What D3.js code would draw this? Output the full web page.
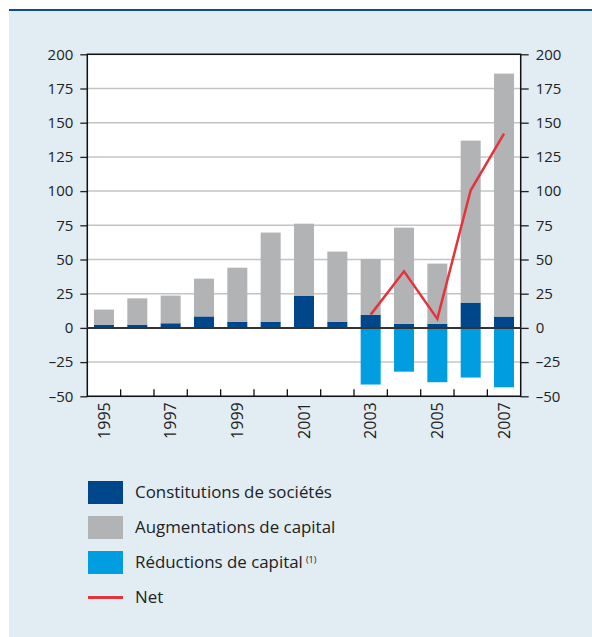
<!DOCTYPE html>
<html lang="fr">
<head>
<meta charset="UTF-8">
<title>Constitutions et augmentations de capital</title>
<script src="https://cdn.jsdelivr.net/npm/d3@7"></script>
<style>
    body { margin: 0; background: #fff; font-family: "Open Sans", sans-serif; }
    svg text { fill: #222; }
</style>
</head>
<body>
<svg id="chart" width="592" height="637"></svg>
<script>
// values (billions)
const years = ["1995", "1996", "1997", "1998", "1999", "2000", "2001", "2002", "2003", "2004", "2005", "2006", "2007"];
const constitutions = [2.4, 2.4, 3.4, 8.4, 4.6, 4.6, 23.6, 4.6, 9.7, 3.1, 3.1, 18.5, 8.3];
const augmentations = [11, 19.2, 20.2, 27.6, 39.4, 65.1, 52.6, 51.2, 40.7, 70.2, 43.9, 118.4, 177.6];
const reductions = [0, 0, 0, 0, 0, 0, 0, 0, -41.4, -32, -39.7, -36.3, -43.4];
const netYears = ["2003", "2004", "2005", "2006", "2007"];
const netValues = [9.7, 41.4, 6.6, 100.6, 142];
const yTicks = [-50, -25, 0, 25, 50, 75, 100, 125, 150, 175, 200];
const xLabels = ["1995", "1997", "1999", "2001", "2003", "2005", "2007"];

const colors = { constitutions: "#00468b", augmentations: "#b2b3b5", reductions: "#009ee0", net: "#e5333b" };

const svg = d3.select("#chart");

// panel background + top rule
svg.append("rect").attr("x", 9).attr("y", 10).attr("width", 583).attr("height", 627).attr("fill", "#e1ecf3");
svg.append("rect").attr("x", 9).attr("y", 9).attr("width", 583).attr("height", 2).attr("fill", "#0a4f96");

const plotL = 87.3, plotR = 520.7, plotT = 54.3, plotB = 396.3;

const x = d3.scaleBand().domain(years).range([plotL, plotR]).paddingInner(0.4).paddingOuter(0.2);
const y = d3.scaleLinear().domain([-50, 200]).range([plotB, plotT]);

svg.append("rect").attr("x", plotL).attr("y", plotT).attr("width", plotR - plotL).attr("height", plotB - plotT).attr("fill", "#fff");

// grid
svg.append("g").selectAll("line").data(yTicks).join("line")
    .attr("x1", plotL).attr("x2", plotR)
    .attr("y1", d => y(d)).attr("y2", d => y(d))
    .attr("stroke", "#c4c4c4").attr("stroke-width", 1.5);

const fmt = d => d < 0 ? "\u2013" + Math.abs(d) : String(d);

const yl = svg.append("g").attr("transform", `translate(${plotL},0)`)
    .call(d3.axisLeft(y).tickValues(yTicks).tickSize(7).tickPadding(7).tickFormat(fmt));
const yr = svg.append("g").attr("transform", `translate(${plotR},0)`)
    .call(d3.axisRight(y).tickValues(yTicks).tickSize(8).tickPadding(7).tickFormat(fmt));
[yl, yr].forEach(g => {
    g.select(".domain").remove();
    g.selectAll("line").attr("stroke", "#222").attr("stroke-width", 1.3);
    g.selectAll("text").attr("font-size", 15).attr("font-family", "Open Sans").attr("fill", "#222");
});

// bars
const bars = svg.append("g");
bars.selectAll(".c").data(years).join("rect")
    .attr("x", d => x(d)).attr("width", x.bandwidth())
    .attr("y", (d, i) => y(constitutions[i])).attr("height", (d, i) => y(0) - y(constitutions[i]))
    .attr("fill", colors.constitutions);
bars.selectAll(".a").data(years).join("rect")
    .attr("x", d => x(d)).attr("width", x.bandwidth())
    .attr("y", (d, i) => y(constitutions[i] + augmentations[i]))
    .attr("height", (d, i) => y(constitutions[i]) - y(constitutions[i] + augmentations[i]))
    .attr("fill", colors.augmentations);
bars.selectAll(".r").data(years).join("rect")
    .attr("x", d => x(d)).attr("width", x.bandwidth())
    .attr("y", y(0)).attr("height", (d, i) => y(reductions[i]) - y(0))
    .attr("fill", colors.reductions);

// frame
svg.append("rect").attr("x", plotL).attr("y", plotT).attr("width", plotR - plotL).attr("height", plotB - plotT)
    .attr("fill", "none").attr("stroke", "#111").attr("stroke-width", 1.5);

// zero line
svg.append("line").attr("x1", plotL).attr("x2", plotR).attr("y1", y(0)).attr("y2", y(0))
    .attr("stroke", "#333").attr("stroke-width", 2);

// category boundary ticks
const gap = x.step() - x.bandwidth();
svg.append("g").selectAll("line").data(years.slice(0, -1)).join("line")
    .attr("x1", d => x(d) + x.bandwidth() + gap / 2).attr("x2", d => x(d) + x.bandwidth() + gap / 2)
    .attr("y1", plotB).attr("y2", plotB - 7)
    .attr("stroke", "#111").attr("stroke-width", 1.3);

// x labels
svg.append("g").selectAll("text").data(xLabels).join("text")
    .attr("transform", d => `translate(${x(d) + x.bandwidth() / 2},${plotB + 6}) rotate(-90)`)
    .attr("text-anchor", "end").attr("dy", "0.35em")
    .attr("font-size", 16).text(d => d);

// net line
const line = d3.line().x((d, i) => x(netYears[i]) + x.bandwidth() / 2).y(d => y(d));
svg.append("path").datum(netValues).attr("d", line)
    .attr("fill", "none").attr("stroke", colors.net).attr("stroke-width", 2.5).attr("stroke-linejoin", "miter");

// legend
const legend = [
    { label: "Constitutions de sociétés", color: colors.constitutions, type: "box" },
    { label: "Augmentations de capital", color: colors.augmentations, type: "box" },
    { label: "Réductions de capital", color: colors.reductions, type: "box", note: "(1)" },
    { label: "Net", color: colors.net, type: "line" }
];
const lg = svg.append("g").selectAll("g").data(legend).join("g")
    .attr("transform", (d, i) => `translate(88,${492.5 + i * 35})`);
lg.filter(d => d.type === "box").append("rect")
    .attr("x", 0).attr("y", -11.5).attr("width", 35).attr("height", 23).attr("fill", d => d.color);
lg.filter(d => d.type === "line").append("rect")
    .attr("x", 0).attr("y", -1.5).attr("width", 35).attr("height", 3).attr("fill", d => d.color);
const lt = lg.append("text").attr("x", 47).attr("dy", "0.35em").attr("font-size", 16.9);
lt.append("tspan").text(d => d.label);
lt.filter(d => d.note).append("tspan").attr("dx", 3).attr("dy", "-0.6em").attr("font-size", 9).text(d => d.note);
</script>
</body>
</html>
